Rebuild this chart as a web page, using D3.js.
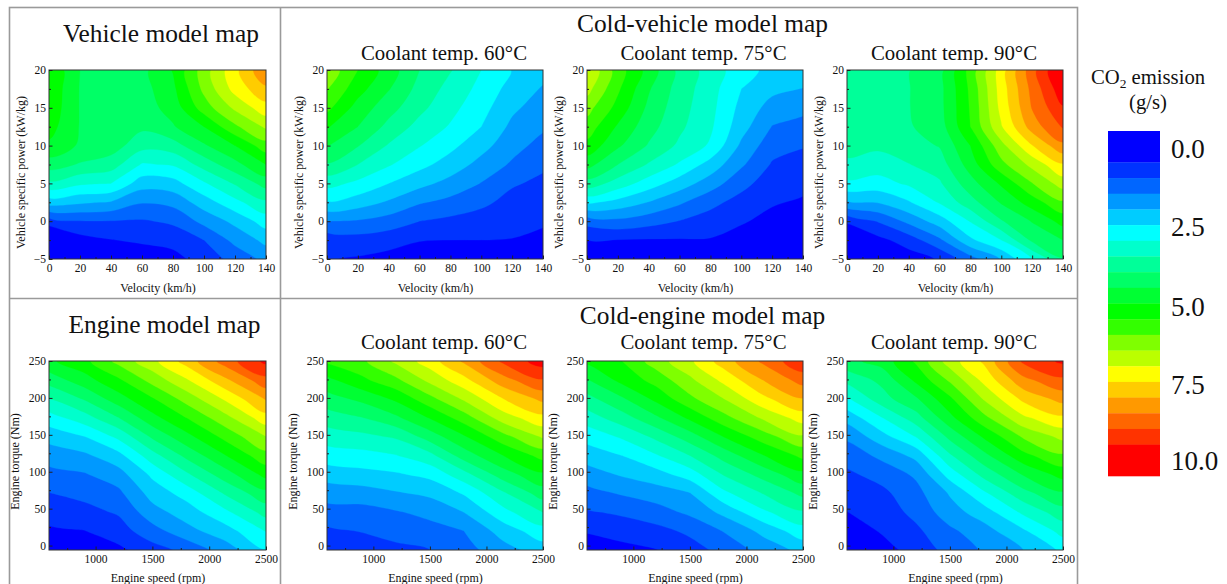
<!DOCTYPE html>
<html>
<head>
<meta charset="utf-8">
<script src="https://cdn.jsdelivr.net/npm/d3@7"></script>
<style>
    html, body { margin: 0; padding: 0; background: #fff; overflow: hidden; }
    text { font-family: "Liberation Serif", "Times New Roman", serif; fill: #111; }
</style>
</head>
<body>
<div id="chart"></div>
<script>
// grid positions of the readings
const velocities = [0, 20, 40, 60, 80, 100, 120, 140];
const vsps = [-5, -2.5, 0, 2.5, 5, 7.5, 10, 12.5, 15, 17.5, 20];
const speeds = [590, 900, 1200, 1500, 1800, 2150, 2500];
const torques = [-6, 20, 45, 71, 96, 122, 148, 173, 199, 224, 250];

// CO2 (g/s), one row per velocity / engine speed, low to high load
const vehicleMap = [
    [-0.6, -0.58, 0.52, 1.99, 3.14, 4.0, 4.65, 4.95, 5.1, 5.15, 5.2],
    [-0.4, 0.05, 0.73, 1.83, 2.83, 3.7, 4.18, 4.22, 4.22, 4.22, 4.25],
    [-0.25, 0.23, 0.73, 1.7, 2.75, 3.5, 4.0, 4.1, 4.1, 4.1, 4.1],
    [-0.15, 0.35, 0.7, 1.28, 1.98, 2.7, 3.43, 3.85, 4.0, 4.05, 4.1],
    [0.05, 0.45, 0.83, 1.4, 2.05, 2.8, 3.53, 4.2, 4.45, 4.63, 4.78],
    [0.5, 0.75, 1.4, 2.0, 2.68, 3.45, 4.18, 4.75, 5.5, 5.88, 6.0],
    [0.9, 1.4, 1.88, 2.6, 3.3, 4.08, 4.75, 5.65, 6.35, 6.93, 7.1],
    [1.4, 1.88, 2.48, 3.15, 3.95, 4.75, 5.53, 6.33, 7.05, 7.65, 8.2]
];
const coldVehicle60 = [
    [0.28, 0.43, 1.25, 2.2, 2.93, 3.7, 4.28, 4.8, 5.38, 5.78, 6.1],
    [0.2, 0.55, 1.2, 2.0, 2.63, 3.25, 3.78, 4.25, 4.55, 4.95, 5.25],
    [0.08, 0.45, 1.03, 1.68, 2.25, 2.8, 3.2, 3.6, 3.95, 4.28, 4.5],
    [-0.1, 0.28, 0.75, 1.3, 1.9, 2.4, 2.78, 3.08, 3.38, 3.58, 3.75],
    [-0.15, 0.25, 0.63, 1.1, 1.58, 2.03, 2.38, 2.7, 2.9, 3.08, 3.28],
    [-0.15, 0.25, 0.55, 0.85, 1.23, 1.58, 1.93, 2.25, 2.43, 2.6, 2.75],
    [-0.15, 0.23, 0.43, 0.6, 0.8, 1.18, 1.43, 1.63, 1.85, 2.05, 2.23],
    [-0.05, 0.1, 0.33, 0.49, 0.65, 0.83, 1.08, 1.33, 1.5, 1.7, 1.93]
];
const coldVehicle75 = [
    [-0.5, 0.24, 0.93, 2.35, 3.55, 4.43, 5.1, 5.53, 5.93, 6.43, 6.75],
    [-0.45, 0.23, 1.13, 2.08, 3.03, 3.75, 4.33, 4.68, 5.08, 5.33, 5.5],
    [-0.45, 0.21, 0.95, 1.73, 2.5, 3.2, 3.7, 3.95, 4.13, 4.3, 4.55],
    [-0.45, 0.21, 0.73, 1.33, 2.0, 2.68, 3.15, 3.35, 3.45, 3.53, 3.6],
    [-0.45, 0.21, 0.55, 0.88, 1.5, 2.05, 2.68, 2.83, 2.9, 2.95, 3.03],
    [-0.5, 0.05, 0.3, 0.58, 0.9, 1.33, 1.65, 1.95, 2.1, 2.25, 2.45],
    [-0.25, -0.05, 0.1, 0.3, 0.5, 0.7, 0.95, 1.23, 1.55, 1.88, 2.1],
    [-0.3, -0.1, 0.03, 0.18, 0.4, 0.58, 0.78, 1.08, 1.38, 1.73, 2.08]
];
const coldVehicle90 = [
    [-0.9, -0.45, 0.35, 1.68, 2.65, 3.15, 3.43, 3.5, 3.55, 3.55, 3.55],
    [-0.6, 0.1, 0.78, 1.78, 2.55, 3.0, 3.35, 3.5, 3.55, 3.55, 3.55],
    [0.0, 0.48, 1.38, 2.2, 2.83, 3.23, 3.55, 3.7, 3.73, 3.73, 3.73],
    [0.3, 1.15, 2.0, 2.8, 3.18, 3.5, 3.78, 4.0, 4.08, 4.08, 4.05],
    [1.05, 2.15, 2.78, 3.55, 4.05, 4.48, 4.75, 5.25, 5.3, 5.35, 5.43],
    [1.78, 2.75, 3.7, 4.3, 4.83, 5.6, 6.08, 6.7, 6.9, 6.98, 7.0],
    [2.75, 3.85, 4.28, 5.0, 5.73, 6.4, 7.23, 7.98, 8.28, 8.4, 8.55],
    [3.7, 4.25, 4.93, 5.68, 6.48, 7.2, 8.13, 8.8, 9.2, 9.6, 9.9]
];
const engineMap = [
    [-0.1, 0.17, 0.45, 0.74, 1.08, 1.48, 1.93, 2.53, 3.25, 3.95, 4.65],
    [-0.05, 0.24, 0.6, 0.88, 1.2, 1.65, 2.25, 3.03, 3.8, 4.53, 5.1],
    [0.13, 0.53, 0.8, 1.13, 1.53, 2.08, 2.88, 3.73, 4.53, 5.15, 5.9],
    [0.55, 1.05, 1.55, 1.95, 2.35, 3.05, 3.85, 4.58, 5.2, 5.93, 6.6],
    [0.88, 1.58, 1.98, 2.45, 3.15, 3.88, 4.6, 5.25, 5.95, 6.68, 7.45],
    [1.5, 2.05, 2.65, 3.33, 4.03, 4.75, 5.43, 6.1, 6.85, 7.65, 8.5],
    [2.23, 2.78, 3.43, 4.1, 4.9, 5.58, 6.25, 7.05, 7.8, 8.58, 9.38]
];
const coldEngine60 = [
    [0.28, 0.65, 1.05, 1.46, 1.96, 2.5, 2.99, 3.5, 4.04, 4.6, 5.35],
    [0.45, 0.78, 1.05, 1.53, 2.08, 2.58, 3.13, 3.73, 4.38, 5.13, 5.65],
    [0.63, 0.93, 1.2, 1.7, 2.18, 2.73, 3.33, 4.15, 4.85, 5.63, 6.35],
    [0.75, 1.05, 1.4, 1.85, 2.38, 3.1, 4.0, 4.78, 5.6, 6.38, 7.0],
    [1.05, 1.25, 1.75, 2.3, 3.05, 3.98, 4.7, 5.5, 6.33, 7.08, 7.83],
    [1.55, 1.98, 2.58, 3.18, 4.0, 4.75, 5.6, 6.5, 7.25, 8.05, 8.85],
    [2.0, 2.55, 3.25, 4.0, 4.65, 5.43, 6.33, 7.1, 7.88, 8.7, 9.5]
];
const coldEngine75 = [
    [-0.2, 0.32, 0.69, 1.08, 1.5, 1.98, 2.44, 3.0, 3.58, 4.2, 4.85],
    [0.1, 0.45, 0.83, 1.3, 1.8, 2.25, 2.83, 3.53, 4.18, 4.9, 5.25],
    [0.23, 0.6, 1.03, 1.5, 2.03, 2.7, 3.38, 4.15, 4.88, 5.43, 6.0],
    [0.55, 0.85, 1.35, 1.73, 2.48, 3.25, 4.03, 4.85, 5.63, 6.13, 6.65],
    [0.9, 1.28, 1.88, 2.63, 3.28, 3.95, 4.78, 5.58, 6.25, 6.88, 7.5],
    [1.43, 1.9, 2.65, 3.28, 3.93, 4.73, 5.53, 6.33, 7.13, 7.75, 8.35],
    [1.9, 2.55, 3.18, 3.88, 4.6, 5.38, 6.2, 6.98, 7.73, 8.45, 9.15]
];
const coldEngine90 = [
    [-0.2, 0.03, 0.24, 0.45, 0.65, 0.95, 1.35, 1.93, 2.68, 3.4, 4.1],
    [0.1, 0.29, 0.48, 0.63, 0.93, 1.38, 2.08, 2.73, 3.55, 3.88, 4.45],
    [0.4, 0.65, 0.89, 1.08, 1.33, 1.9, 2.78, 3.53, 4.18, 4.85, 5.33],
    [0.95, 1.15, 1.53, 1.8, 2.45, 3.18, 3.9, 4.6, 5.15, 5.83, 6.5],
    [1.3, 1.55, 2.0, 2.65, 3.4, 4.1, 4.83, 5.6, 6.3, 6.88, 7.33],
    [1.75, 2.18, 2.85, 3.58, 4.28, 5.1, 5.83, 6.65, 7.38, 8.1, 8.85],
    [2.35, 2.93, 3.53, 4.18, 4.93, 5.68, 6.4, 7.15, 7.93, 8.63, 9.35]
];

// colour levels of the legend
const levels = [0.25, 0.75, 1.25, 1.75, 2.25, 2.75, 3.25, 3.75, 4.25, 4.75, 5.25, 5.75, 6.25, 6.75, 7.25, 7.75, 8.25, 8.75, 9.25];
const levelColors = ["#0000ff", "#0033ff", "#0066ff", "#0099ff", "#00ccff", "#00ffff", "#00ffcc", "#00ff99", "#00ff66", "#00ff33",
    "#00ff00", "#33ff00", "#7fff00", "#bbff00", "#ffff00", "#ffcc00", "#ff9900", "#ff6600", "#ff3300", "#ff0000"];
const legendLabels = ["0.0", "2.5", "5.0", "7.5", "10.0"];
// labels sit a little off their band in the original
const legendLabelAt = [-0.18, 2.31, 4.86, 7.35, 9.77];

const velocityTicks = [0, 20, 40, 60, 80, 100, 120, 140];
const velocityMinor = [10, 30, 50, 70, 90, 110, 130];
const vspTicks = [-5, 0, 5, 10, 15, 20];
const vspMinor = [-2.5, 2.5, 7.5, 12.5, 17.5];
const speedTicks = [1000, 1500, 2000, 2500];
const speedMinor = [750, 1250, 1750, 2250];
const torqueTicks = [0, 50, 100, 150, 200, 250];
const torqueMinor = [25, 75, 125, 175, 225];

const vehicleAxes = {
    xs: velocities, ys: vsps, xDomain: [0, 140], yDomain: [-5, 20], top: 70, bottom: 259,
    xTicks: velocityTicks, xMinor: velocityMinor, yTicks: vspTicks, yMinor: vspMinor,
    xTitle: "Velocity (km/h)", yTitle: "Vehicle specific power (kW/kg)", xTitleY: 292, yTitleX: 24.5, yTitleMid: 172.5
};
const engineAxes = {
    xs: speeds, ys: torques, xDomain: [590, 2500], yDomain: [-6, 250], top: 361, bottom: 550,
    xTicks: speedTicks, xMinor: speedMinor, yTicks: torqueTicks, yMinor: torqueMinor,
    xTitle: "Engine speed (rpm)", yTitle: "Engine torque (Nm)", xTitleY: 582, yTitleX: 30.5, yTitleMid: 461.5
};

const panels = [
    { grid: vehicleMap, axes: vehicleAxes, left: 49, right: 266 },
    { grid: coldVehicle60, axes: vehicleAxes, left: 327, right: 543 },
    { grid: coldVehicle75, axes: vehicleAxes, left: 587, right: 803 },
    { grid: coldVehicle90, axes: vehicleAxes, left: 847, right: 1063 },
    { grid: engineMap, axes: engineAxes, left: 49, right: 266 },
    { grid: coldEngine60, axes: engineAxes, left: 327, right: 543 },
    { grid: coldEngine75, axes: engineAxes, left: 587, right: 803 },
    { grid: coldEngine90, axes: engineAxes, left: 847, right: 1063 }
];

const width = 1227, height = 584;

const svg = d3.select("#chart").append("svg")
    .attr("width", width)
    .attr("height", height)
    .style("display", "block");

const color = d3.scaleThreshold().domain(levels).range(levelColors);

// rings are smoothed, the reference maps are not polygonal
const ringLine = d3.line().curve(d3.curveCatmullRomClosed.alpha(0.5));

// grey section frame
const frame = svg.append("g")
    .attr("fill", "none")
    .attr("stroke", "#9a9a9a")
    .attr("stroke-width", 1.6);
frame.append("rect").attr("x", 9.5).attr("y", 7.5).attr("width", 1068).attr("height", 600);
frame.append("line").attr("x1", 280.5).attr("x2", 280.5).attr("y1", 7).attr("y2", 584);
frame.append("line").attr("x1", 9).attr("x2", 1078).attr("y1", 298.5).attr("y2", 298.5);

panels.forEach(drawPanel);

function drawPanel(panel, index) {
    let axes = panel.axes,
        n = axes.xs.length,
        m = axes.ys.length;

    let x = d3.scaleLinear().domain(axes.xDomain).range([panel.left, panel.right]);
    let y = d3.scaleLinear().domain(axes.yDomain).range([axes.bottom, axes.top]);

    // contour cell coordinates -> data values (grid is not evenly spaced)
    let colValue = d3.scaleLinear().domain(d3.range(n)).range(axes.xs);
    let rowValue = d3.scaleLinear().domain(d3.range(m)).range(axes.ys);

    let values = [];
    for (let j = 0; j < m; j++) {
        for (let i = 0; i < n; i++) {
            values.push(panel.grid[i][j]);
        }
    }

    let contours = d3.contours()
        .size([n, m])
        .thresholds(levels)(values);

    function ringsPath(d) {
        let out = "";
        d.coordinates.forEach(polygon => {
            polygon.forEach(ring => {
                let pts = ring.slice(0, -1).map(p => [x(colValue(p[0] - 0.5)), y(rowValue(p[1] - 0.5))]);
                out += ringLine(pts);
            });
        });
        return out;
    }

    const g = svg.append("g");

    const clipId = "plot-clip-" + index;
    g.append("clipPath")
        .attr("id", clipId)
        .append("rect")
        .attr("x", panel.left)
        .attr("y", axes.top)
        .attr("width", panel.right - panel.left)
        .attr("height", axes.bottom - axes.top);

    g.append("rect")
        .attr("x", panel.left)
        .attr("y", axes.top)
        .attr("width", panel.right - panel.left)
        .attr("height", axes.bottom - axes.top)
        .attr("fill", levelColors[0]);

    g.append("g")
        .attr("clip-path", "url(#" + clipId + ")")
        .selectAll("path")
        .data(contours)
        .enter().append("path")
        .attr("d", ringsPath)
        .attr("fill-rule", "evenodd")
        .attr("fill", d => color(d.value))
        .attr("stroke", d => color(d.value))
        .attr("stroke-width", 0.3);

    g.append("rect")
        .attr("x", panel.left)
        .attr("y", axes.top)
        .attr("width", panel.right - panel.left)
        .attr("height", axes.bottom - axes.top)
        .attr("fill", "none")
        .attr("stroke", "#333")
        .attr("stroke-width", 1);

    // major ticks point inwards, labels stay outside
    g.append("g")
        .attr("transform", "translate(0," + axes.bottom + ")")
        .call(d3.axisBottom(x).tickValues(axes.xTicks).tickFormat(d3.format("d")).tickSizeInner(-3.5).tickSizeOuter(0).tickPadding(5));
    g.append("g")
        .attr("transform", "translate(" + panel.left + ",0)")
        .call(d3.axisLeft(y).tickValues(axes.yTicks).tickFormat(d3.format("d")).tickSizeInner(-3.5).tickSizeOuter(0).tickPadding(3));
    g.append("g")
        .attr("transform", "translate(0," + axes.bottom + ")")
        .call(d3.axisBottom(x).tickValues(axes.xMinor).tickFormat("").tickSizeInner(-2).tickSizeOuter(0));
    g.append("g")
        .attr("transform", "translate(" + panel.left + ",0)")
        .call(d3.axisLeft(y).tickValues(axes.yMinor).tickFormat("").tickSizeInner(-2).tickSizeOuter(0));

    g.selectAll(".domain").remove();
    g.selectAll(".tick line").attr("stroke", "#222");
    g.selectAll(".tick text")
        .style("font-family", '"Liberation Serif", serif')
        .style("font-size", "11.5px")
        .attr("fill", "#111");

    g.append("text")
        .attr("x", (panel.left + panel.right) / 2 + 0.5)
        .attr("y", axes.xTitleY)
        .attr("text-anchor", "middle")
        .style("font-size", "12px")
        .text(axes.xTitle);

    g.append("text")
        .attr("transform", "translate(" + (panel.left - axes.yTitleX) + "," + axes.yTitleMid + ") rotate(-90)")
        .attr("text-anchor", "middle")
        .style("font-size", "12px")
        .text(axes.yTitle);
}

// headings
const headings = [
    ["Vehicle model map", 161, 41.5, 25.4],
    ["Cold-vehicle model map", 702.5, 32, 25.4],
    ["Coolant temp. 60°C", 444, 60, 20.8],
    ["Coolant temp. 75°C", 703.5, 60, 20.8],
    ["Coolant temp. 90°C", 954, 60, 20.8],
    ["Engine model map", 164.5, 333, 25.4],
    ["Cold-engine model map", 702.5, 324, 25.4],
    ["Coolant temp. 60°C", 444, 349, 20.8],
    ["Coolant temp. 75°C", 703.5, 349, 20.8],
    ["Coolant temp. 90°C", 954, 349, 20.8]
];

svg.append("g")
    .selectAll("text")
    .data(headings)
    .enter().append("text")
    .attr("x", d => d[1])
    .attr("y", d => d[2])
    .attr("text-anchor", "middle")
    .style("font-size", d => d[3] + "px")
    .attr("fill", "#000")
    .text(d => d[0]);

// legend
const legend = svg.append("g");
const legendY = d3.scaleLinear().domain([-0.75, 10.25]).range([131, 476]);
const edges = [-0.75].concat(levels, [10.25]);

legend.selectAll("rect")
    .data(levelColors)
    .enter().append("rect")
    .attr("x", 1108)
    .attr("width", 52)
    .attr("y", (d, i) => legendY(edges[i]))
    .attr("height", (d, i) => legendY(edges[i + 1]) - legendY(edges[i]) + 0.3)
    .attr("fill", d => d);

legend.selectAll("text.level")
    .data(legendLabels)
    .enter().append("text")
    .attr("class", "level")
    .attr("x", 1171)
    .attr("y", (d, i) => legendY(legendLabelAt[i]))
    .attr("dy", "0.34em")
    .style("font-size", "27px")
    .text(d => d);

const legendTitle = legend.append("text")
    .attr("x", 1148)
    .attr("y", 84)
    .attr("text-anchor", "middle")
    .style("font-size", "20.7px");
legendTitle.append("tspan").text("CO");
legendTitle.append("tspan").attr("dy", 4).style("font-size", "13.5px").text("2");
legendTitle.append("tspan").attr("dy", -4).text(" emission");

legend.append("text")
    .attr("x", 1148)
    .attr("y", 108.5)
    .attr("text-anchor", "middle")
    .style("font-size", "20.7px")
    .text("(g/s)");
</script>
</body>
</html>
